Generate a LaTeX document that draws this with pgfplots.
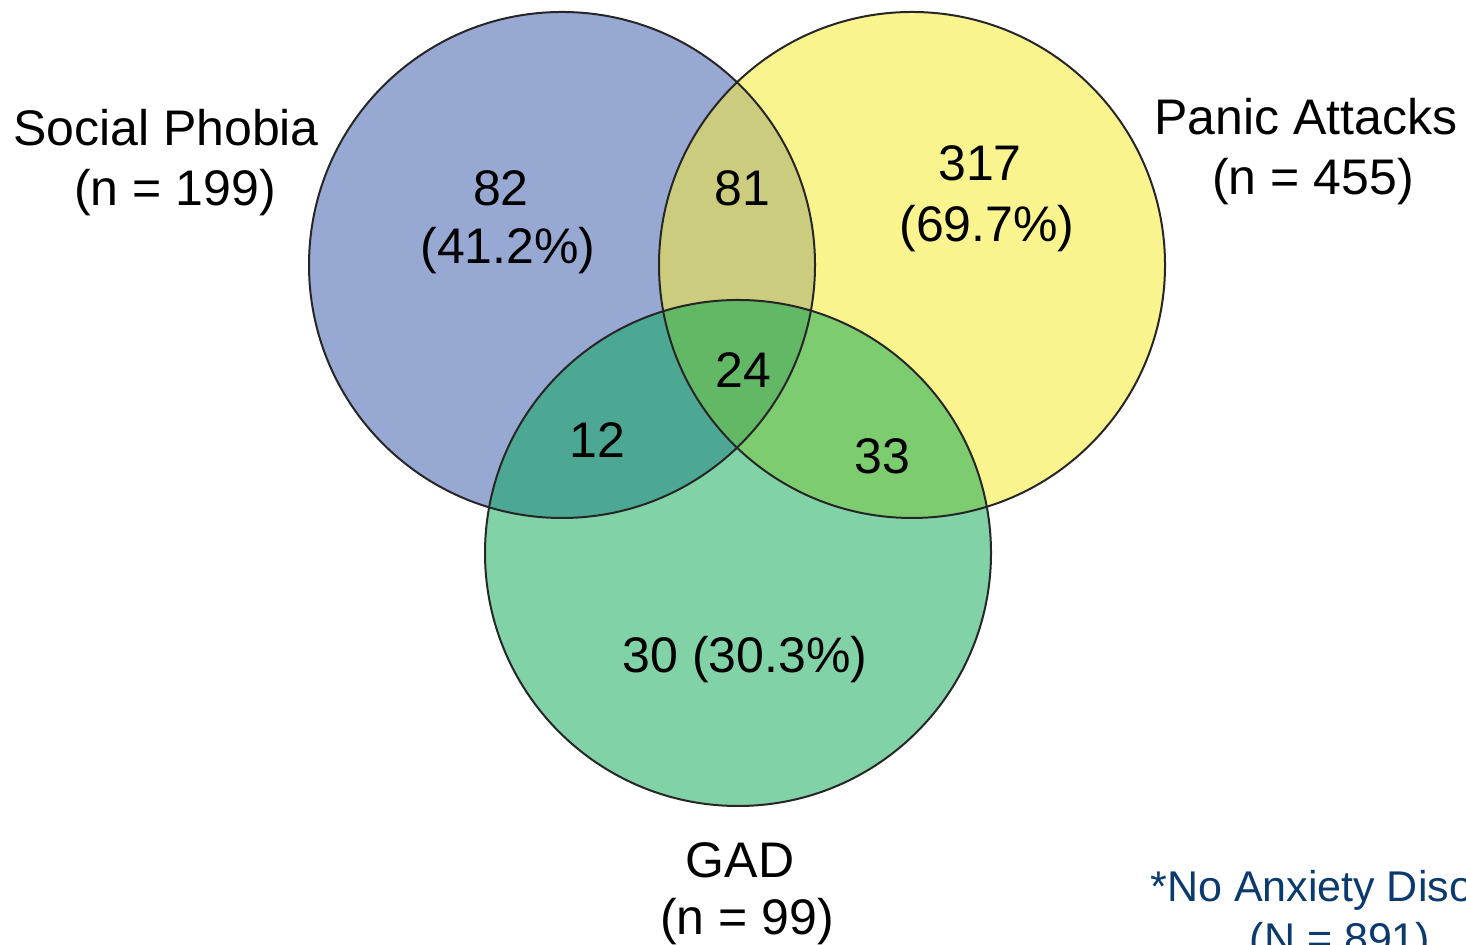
\documentclass[border=0pt]{standalone}
\usepackage{pgfplots}
\pgfplotsset{compat=1.18}
\usepackage{fontspec}
\setmainfont{Liberation Sans}
\definecolor{cblue}{HTML}{97A9D3}
\definecolor{cyellow}{HTML}{FAF48E}
\definecolor{cgreen}{HTML}{82D2A8}
\definecolor{colive}{HTML}{CBCC7E}
\definecolor{cteal}{HTML}{4DA893}
\definecolor{clime}{HTML}{7DCC70}
\definecolor{ccenter}{HTML}{63B866}
\definecolor{navytext}{HTML}{0B3A6E}
\begin{document}
\begin{tikzpicture}
\useasboundingbox (0,0) rectangle (733pt,472.5pt);
\clip (0,0) rectangle (733pt,472.5pt);
\begin{axis}[at={(0,0)}, anchor=origin, x=0.5pt, y=0.5pt,
  xmin=0, xmax=1466, ymin=0, ymax=945, hide axis, clip=false,
  disabledatascaling]
% circles: Social Phobia (562,680), Panic Attacks (912,680), GAD (738,392), r = 253
\fill[cblue]   (axis cs:562,680) circle [radius=253];
\fill[cyellow] (axis cs:912,680) circle [radius=253];
\fill[cgreen]  (axis cs:738,392) circle [radius=253];
\begin{scope}
  \clip (axis cs:562,680) circle [radius=253];
  \fill[colive] (axis cs:912,680) circle [radius=253];
  \fill[cteal]  (axis cs:738,392) circle [radius=253];
\end{scope}
\begin{scope}
  \clip (axis cs:912,680) circle [radius=253];
  \fill[clime] (axis cs:738,392) circle [radius=253];
\end{scope}
\begin{scope}
  \clip (axis cs:562,680) circle [radius=253];
  \clip (axis cs:912,680) circle [radius=253];
  \fill[ccenter] (axis cs:738,392) circle [radius=253];
\end{scope}
\draw[black!85, line width=1pt] (axis cs:562,680) circle [radius=253];
\draw[black!85, line width=1pt] (axis cs:912,680) circle [radius=253];
\draw[black!85, line width=1pt] (axis cs:738,392) circle [radius=253];
% labels
\begin{scope}[every node/.style={font=\fontsize{25}{30}\selectfont, inner sep=0pt, anchor=base}]
\node at (axis cs:166,799) {Social Phobia};
\node at (axis cs:175,739) {(n = 199)};
\node at (axis cs:1306,810) {Panic Attacks};
\node at (axis cs:1313,750) {(n = 455)};
\node at (axis cs:501,739) {82};
\node at (axis cs:508,681) {(41.2\%)};
\node at (axis cs:742,739) {81};
\node at (axis cs:980,764) {317};
\node at (axis cs:987,703) {(69.7\%)};
\node at (axis cs:743,557) {24};
\node at (axis cs:597,487) {12};
\node at (axis cs:882,471) {33};
\node at (axis cs:745,272) {30 (30.3\%)};
\node at (axis cs:740,67) {GAD};
\node at (axis cs:747,10) {(n = 99)};
\node[font=\fontsize{21.5}{26}\selectfont, anchor=base west, text=navytext] at (axis cs:1150,43) {*No Anxiety Disorder};
\node[font=\fontsize{21.5}{26}\selectfont, text=navytext] at (axis cs:1340,-9) {(N = 891)};
\end{scope}
\end{axis}
\end{tikzpicture}
\end{document}
